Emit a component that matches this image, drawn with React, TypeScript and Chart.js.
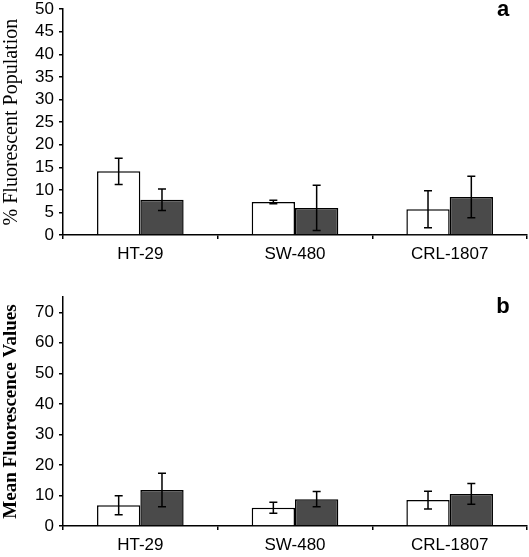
import React, { useEffect, useRef } from "react";
import { Chart, registerables } from "chart.js";

Chart.register(...registerables);

const categories = ["HT-29", "SW-480", "CRL-1807"];

const popWhite = [14.1, 7.3, 5.7];
const popWhiteErr = [2.9, 0.4, 4.1];
const popDark = [7.8, 6.0, 8.4];
const popDarkErr = [2.4, 5.0, 4.6];

const mfiWhite = [6.8, 6.0, 8.5];
const mfiWhiteErr = [3.1, 1.8, 2.9];
const mfiDark = [11.8, 8.8, 10.5];
const mfiDarkErr = [5.5, 2.5, 3.4];

const popTicks = { min: 0, max: 50, step: 5 };
const mfiTicks = { min: 0, max: 75, step: 10 };

const errorBarPlugin = {
  id: "errorBars",
  afterDatasetsDraw(chart: any) {
    const ctx = chart.ctx;
    const yScale = chart.scales.y;
    ctx.save();
    ctx.strokeStyle = "#000";
    ctx.lineWidth = 1.5;
    chart.data.datasets.forEach((ds: any, di: number) => {
      const meta = chart.getDatasetMeta(di);
      const errs: number[] = ds.errors || [];
      meta.data.forEach((bar: any, i: number) => {
        const v = ds.data[i];
        const e = errs[i] || 0;
        const x = bar.x;
        const yt = yScale.getPixelForValue(v + e);
        const yb = yScale.getPixelForValue(Math.max(0, v - e));
        const cap = 4;
        ctx.beginPath();
        ctx.moveTo(x, yt);
        ctx.lineTo(x, yb);
        ctx.moveTo(x - cap, yt);
        ctx.lineTo(x + cap, yt);
        ctx.moveTo(x - cap, yb);
        ctx.lineTo(x + cap, yb);
        ctx.stroke();
      });
    });
    ctx.restore();
  },
};

const panelLabelPlugin = {
  id: "panelLabel",
  afterDraw(chart: any, _args: any, opts: any) {
    if (!opts || !opts.text) return;
    const ctx = chart.ctx;
    ctx.save();
    ctx.fillStyle = "#000";
    ctx.font = "bold 22px 'Liberation Sans', Arial, sans-serif";
    ctx.textAlign = "center";
    ctx.textBaseline = "middle";
    ctx.fillText(opts.text, opts.x, opts.y);
    ctx.restore();
  },
};

function makeConfig(
  white: number[],
  whiteErr: number[],
  dark: number[],
  darkErr: number[],
  ticksCfg: { min: number; max: number; step: number },
  title: string,
  titleBold: boolean,
  titleSize: number,
  label: string,
  labelY: number,
  padTop: number,
  xHeight: number
) {
  return {
    type: "bar",
    data: {
      labels: categories,
      datasets: [
        {
          data: white,
          errors: whiteErr,
          backgroundColor: "#ffffff",
          borderColor: "#000000",
          borderWidth: 1.5,
          categoryPercentage: 0.56,
          barPercentage: 1.0,
        },
        {
          data: dark,
          errors: darkErr,
          backgroundColor: "#4a4a4a",
          borderColor: "#000000",
          borderWidth: 1.5,
          categoryPercentage: 0.56,
          barPercentage: 1.0,
        },
      ],
    },
    options: {
      responsive: false,
      animation: false,
      devicePixelRatio: 1,
      layout: { padding: { top: padTop, right: 2, left: 0, bottom: 0 } },
      plugins: {
        legend: { display: false },
        tooltip: { enabled: false },
        panelLabel: { text: label, x: 503, y: labelY },
      },
      scales: {
        x: {
          border: { display: true, color: "#000", width: 1.5 },
          grid: {
            display: true,
            drawOnChartArea: false,
            drawTicks: true,
            tickLength: 4,
            color: "#000",
            lineWidth: 1.5,
            offset: true,
          },
          ticks: {
            color: "#000",
            font: { family: "'Liberation Sans', Arial, sans-serif", size: 17 },
            padding: 5,
          },
          afterFit(scale: any) {
            scale.height = xHeight;
          },
        },
        y: {
          min: ticksCfg.min,
          max: ticksCfg.max,
          border: { display: true, color: "#000", width: 1.5 },
          grid: {
            display: true,
            drawOnChartArea: false,
            drawTicks: true,
            tickLength: 4,
            color: "#000",
            lineWidth: 1.5,
          },
          ticks: {
            stepSize: ticksCfg.step,
            includeBounds: false,
            autoSkip: false,
            color: "#000",
            font: { family: "'Liberation Sans', Arial, sans-serif", size: 17 },
            padding: 5,
          },
          title: {
            display: true,
            text: title,
            color: "#000",
            font: {
              family: "'Liberation Serif', 'Times New Roman', serif",
              size: titleSize,
              weight: titleBold ? "bold" : "normal",
            },
            padding: 0,
          },
          afterFit(scale: any) {
            scale.width = 63;
          },
        },
      },
    },
    plugins: [errorBarPlugin, panelLabelPlugin],
  };
}

function Panel(props: { top: number; height: number; config: any }) {
  const ref = useRef<HTMLCanvasElement | null>(null);
  useEffect(() => {
    if (!ref.current) return;
    const chart = new Chart(ref.current, props.config);
    return () => chart.destroy();
  }, []);
  return (
    <canvas
      ref={ref}
      width={529}
      height={props.height}
      style={{
        position: "absolute",
        left: 0,
        top: props.top,
        width: 529,
        height: props.height,
        display: "block",
      }}
    />
  );
}

export default function App() {
  const cfgA = makeConfig(
    popWhite,
    popWhiteErr,
    popDark,
    popDarkErr,
    popTicks,
    "% Fluorescent Population",
    false,
    20,
    "a",
    16,
    0,
    33
  );
  const cfgB = makeConfig(
    mfiWhite,
    mfiWhiteErr,
    mfiDark,
    mfiDarkErr,
    mfiTicks,
    "Mean Fluorescence Values",
    true,
    19,
    "b",
    37,
    27,
    31
  );
  return (
    <div
      style={{
        position: "absolute",
        left: 0,
        top: 0,
        width: 529,
        height: 557,
        background: "#fff",
        overflow: "hidden",
      }}
    >
      <Panel top={-6} height={274} config={cfgA} />
      <Panel top={270} height={287} config={cfgB} />
    </div>
  );
}
